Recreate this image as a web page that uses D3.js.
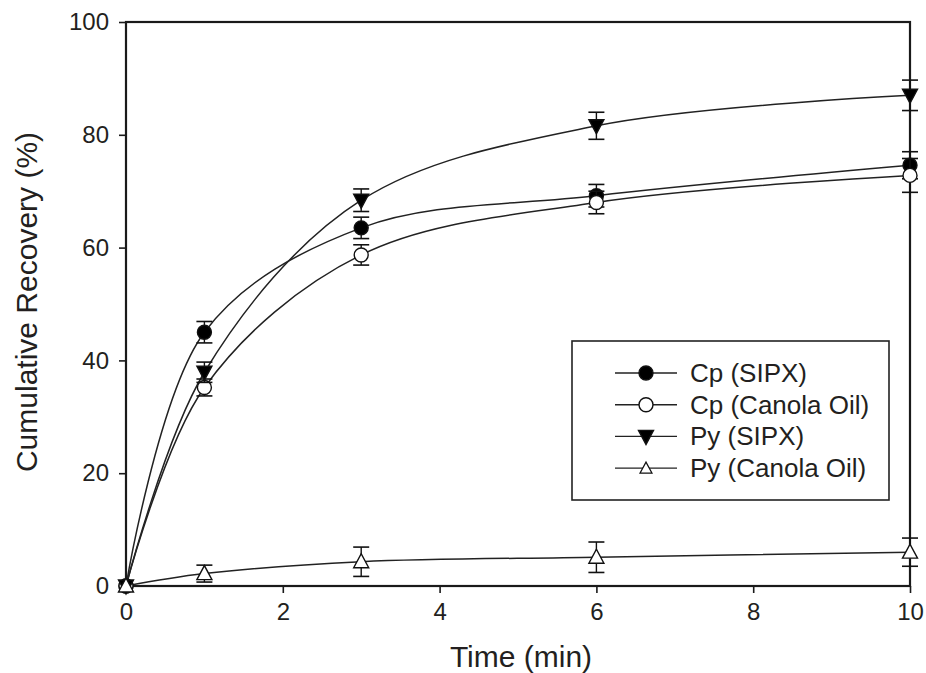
<!DOCTYPE html>
<html><head><meta charset="utf-8">
<script src="https://cdn.jsdelivr.net/npm/d3@7"></script>
<style>body{margin:0;background:#fff}svg{display:block}text{font-family:"Liberation Sans",Arial,sans-serif;fill:#231f20}</style>
</head><body>
<svg id="c" width="926" height="673"></svg>
<script>
const times = [0, 1, 3, 6, 10];
const seriesNames = ["Cp (SIPX)", "Cp (Canola Oil)", "Py (SIPX)", "Py (Canola Oil)"];
const cpSipx = [0, 45.0, 63.5, 69.2, 74.6];
const cpSipxErr = [0, 1.9, 1.9, 2.0, 2.4];
const cpCanola = [0, 35.2, 58.7, 68.0, 72.8];
const cpCanolaErr = [0, 1.5, 1.8, 2.0, 3.0];
const pySipx = [0, 37.9, 68.4, 81.6, 87.0];
const pySipxErr = [0, 1.8, 2.0, 2.4, 2.7];
const pyCanola = [0, 2.2, 4.3, 5.1, 6.0];
const pyCanolaErr = [0, 1.5, 2.6, 2.7, 2.5];
const xTicks = [0, 2, 4, 6, 8, 10];
const yTicks = [0, 20, 40, 60, 80, 100];

const series = [
  {name: seriesNames[0], v: cpSipx, e: cpSipxErr, sym: "circle", fill: "#000"},
  {name: seriesNames[1], v: cpCanola, e: cpCanolaErr, sym: "circle", fill: "#fff"},
  {name: seriesNames[2], v: pySipx, e: pySipxErr, sym: "tridown", fill: "#000"},
  {name: seriesNames[3], v: pyCanola, e: pyCanolaErr, sym: "triup", fill: "#fff"}
];

const svg = d3.select("#c");
const L = 126, R = 910, T = 22, B = 586;
const x = d3.scaleLinear().domain([0, 10]).range([L, R]);
const y = d3.scaleLinear().domain([0, 100]).range([B, T]);

svg.append("rect").attr("x", L).attr("y", T).attr("width", R - L).attr("height", B - T)
  .attr("fill", "none").attr("stroke", "#1a1a1a").attr("stroke-width", 2.2);

const xAxis = svg.append("g").attr("transform", `translate(0,${B})`)
  .call(d3.axisBottom(x).tickValues(xTicks).tickSize(7).tickPadding(10).tickFormat(d3.format("d")));
const yAxis = svg.append("g").attr("transform", `translate(${L},0)`)
  .call(d3.axisLeft(y).tickValues(yTicks).tickSize(7).tickPadding(10).tickFormat(d3.format("d")));
[xAxis, yAxis].forEach(g => {
  g.select(".domain").remove();
  g.selectAll("line").attr("stroke", "#1a1a1a").attr("stroke-width", 1.6);
  g.selectAll("text").attr("font-size", 24).attr("font-family", "Liberation Sans, Arial, sans-serif").attr("fill", "#231f20");
});

svg.append("text").attr("x", x(5) + 3).attr("y", 667).attr("text-anchor", "middle")
  .attr("font-size", 30).text("Time (min)");
svg.append("text").attr("transform", `translate(37,${(T + B) / 2 - 2}) rotate(-90)`)
  .attr("text-anchor", "middle").attr("font-size", 30).text("Cumulative Recovery (%)");

const line = d3.line().x(d => x(d[0])).y(d => y(d[1])).curve(d3.curveCatmullRom.alpha(0.5));

function marker(g, s, cx, cy) {
  if (s.sym === "circle") {
    g.append("circle").attr("cx", cx).attr("cy", cy).attr("r", 7)
      .attr("fill", s.fill).attr("stroke", "#111").attr("stroke-width", 1.4);
  } else {
    const h = 14, w = 15;
    const pts = s.sym === "tridown"
      ? [[cx - w/2, cy - h/2 + 1], [cx + w/2, cy - h/2 + 1], [cx, cy + h/2 + 1]]
      : [[cx - w/2, cy + h/2 - 1], [cx + w/2, cy + h/2 - 1], [cx, cy - h/2 - 1]];
    g.append("polygon").attr("points", pts.map(p => p.join(",")).join(" "))
      .attr("fill", s.fill).attr("stroke", "#111").attr("stroke-width", 1.4);
  }
}

const plot = svg.append("g");
series.forEach(s => {
  plot.append("path").datum(times.map((t, i) => [t, s.v[i]]))
    .attr("d", line).attr("fill", "none").attr("stroke", "#222").attr("stroke-width", 1.5);
});
series.forEach(s => {
  const g = plot.append("g");
  times.forEach((t, i) => {
    if (s.e[i] > 0) {
      const cx = x(t), y1 = y(s.v[i] + s.e[i]), y2 = y(s.v[i] - s.e[i]);
      g.append("line").attr("x1", cx).attr("x2", cx).attr("y1", y1).attr("y2", y2).attr("stroke", "#111").attr("stroke-width", 1.4);
      [y1, y2].forEach(yy => g.append("line").attr("x1", cx - 8).attr("x2", cx + 8).attr("y1", yy).attr("y2", yy).attr("stroke", "#111").attr("stroke-width", 1.6));
    }
  });
  times.forEach((t, i) => marker(g, s, x(t), y(s.v[i])));
});

const lg = svg.append("g");
lg.append("rect").attr("x", 572).attr("y", 341).attr("width", 317).attr("height", 159)
  .attr("fill", "#fff").attr("stroke", "#222").attr("stroke-width", 1.6);
series.forEach((s, i) => {
  const yy = 373 + i * 31.7;
  lg.append("line").attr("x1", 615).attr("x2", 677).attr("y1", yy).attr("y2", yy).attr("stroke", "#222").attr("stroke-width", 1.4);
  if (s.sym === "triup") {
    lg.append("polygon").attr("points", `${646-6},${yy+5} ${646+6},${yy+5} ${646},${yy-6}`)
      .attr("fill", "#fff").attr("stroke", "#111").attr("stroke-width", 1.2);
  } else marker(lg, s, 646, yy);
  lg.append("text").attr("x", 690).attr("y", yy + 9).attr("font-size", 26).text(s.name);
});
</script>
</body></html>
